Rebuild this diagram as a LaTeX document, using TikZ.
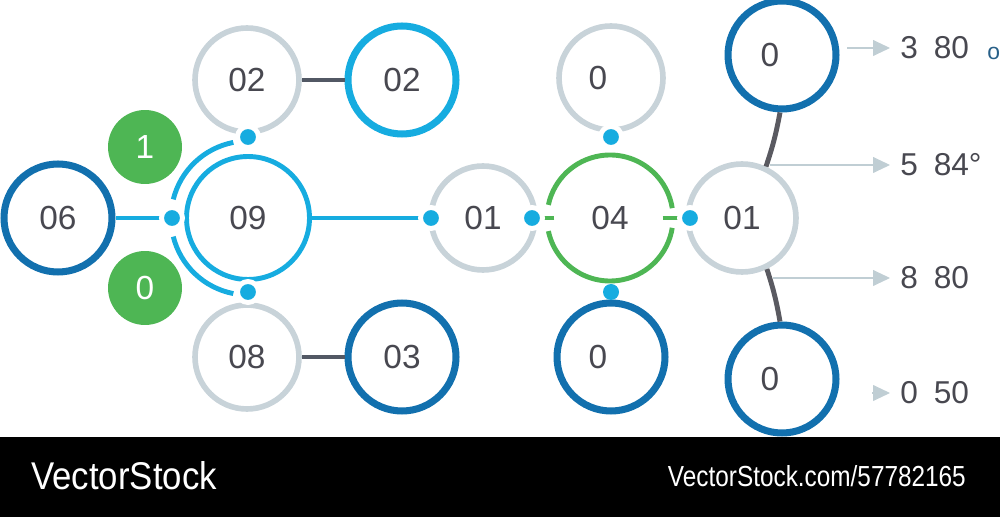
\documentclass[tikz,border=0pt]{standalone}
\usepackage{fontspec}
\setmainfont{Liberation Sans}
\usetikzlibrary{arrows.meta}
\definecolor{dblue}{RGB}{18,112,174}
\definecolor{lblue}{RGB}{22,172,224}
\definecolor{ringgray}{RGB}{200,211,217}
\definecolor{grn}{RGB}{78,182,84}
\definecolor{ink}{RGB}{72,72,80}
\definecolor{linkgray}{RGB}{82,88,100}
\definecolor{pointgray}{RGB}{192,206,212}
\begin{document}
\begin{tikzpicture}[x=0.02cm,y=0.02cm,
  num/.style={circle,inner sep=0,text=ink,font=\fontsize{19}{20}\selectfont},
  darkring/.style={num,draw=dblue,line width=4pt,minimum size=2.16cm},
  cyanring/.style={num,draw=lblue,line width=4pt,minimum size=2.16cm},
  grayring/.style={num,draw=ringgray,line width=3.2pt,minimum size=2.08cm},
  badge/.style={circle,fill=grn,text=white,inner sep=0,minimum size=1.48cm,font=\fontsize{19}{20}\selectfont},
  joint/.style={circle,fill=lblue,draw=white,line width=2.8pt,inner sep=0,minimum size=0.42cm},
  spot/.style={circle,fill=lblue,inner sep=0,minimum size=0.32cm},
  link/.style={draw=linkgray,line width=2.3pt},
  stem/.style={draw=ink!90,line width=2.8pt},
  pointer/.style={draw=pointgray,line width=0.6pt,shorten >=5.7pt,-{Triangle[length=9.6pt,width=9pt]}},
  value/.style={anchor=west,inner sep=0,text=ink,font=\fontsize{18}{20}\selectfont}]
\useasboundingbox (0,0) rectangle (1000,517);
\fill[black] (0,0) rectangle (1000,80);
\node[anchor=west,text=white,font=\fontsize{22}{24}\selectfont] (brand) at (25,41) {\scalebox{0.9}[1]{VectorStock}};
\node[anchor=east,text=white,font=\fontsize{16.5}{18}\selectfont] (url) at (972,41) {\scalebox{0.84}[1]{VectorStock.com/57782165}};
\coordinate (dT) at (248,380);
\coordinate (dB) at (248,225);
\coordinate (dL) at (172,299);
\coordinate (dA) at (431,299);
\coordinate (dC) at (532,299);
\coordinate (dZ) at (611,380);
\coordinate (dR) at (690,299);
\node[darkring] (n06) at (58,299) {06};
\node[badge] (one) at (145,370) {1};
\node[badge] (zero) at (145,229) {0};
\node[cyanring,line width=2.8pt,minimum size=2.46cm] (n09) at (248,299) {09};
\draw[lblue,line width=2.8pt] (n09.center) ++(101:77) arc[start angle=101,end angle=166,radius=77];
\draw[lblue,line width=2.8pt] (n09.center) ++(194:77) arc[start angle=194,end angle=259,radius=77];
\node[grayring] (g02) at (247,437) {02};
\node[cyanring] (c02) at (402,437) {02};
\node[grayring] (g08) at (247,160) {08};
\node[darkring] (d03) at (402,160) {03};
\draw[link] (g02) -- (c02);
\draw[link] (g08) -- (d03);
\node[grayring] (n01) at (483,299) {01};
\node[num,minimum size=2.54cm] (n04) at (610,299) {04};
\draw[grn,line width=2.8pt] (n04.center) ++(9:63) arc[start angle=9,end angle=168,radius=63];
\draw[grn,line width=2.8pt] (n04.center) ++(192:63) arc[start angle=192,end angle=351,radius=63];
\node[grayring] (z1) at (611,439) {0\rule{0.52cm}{0pt}};
\node[darkring] (z2) at (611,160) {0\rule{0.52cm}{0pt}};
\node[grayring,minimum size=2.16cm] (n01r) at (742,299) {01};
\node[darkring] (z3) at (782,462) {0\rule{0.48cm}{0pt}};
\node[darkring] (z4) at (782,138) {0\rule{0.48cm}{0pt}};
\draw[stem] (z3.-92) to[bend left=4] (n01r.65);
\draw[stem] (n01r.-64) to[bend left=4] (z4.92);
\draw[lblue,line width=2.3pt] (n06) -- (dL);
\draw[lblue,line width=2.3pt] (n09) -- (dA);
\draw[grn,line width=2.8pt,shorten <=31.7pt] (n04.center) -- (dC);
\draw[grn,line width=2.8pt,shorten <=30pt] (n04.center) -- (dR);
\foreach \p in {dT,dB,dL,dA,dC,dZ,dR} \node[joint] at (\p) {};
\node[spot] (dY) at (611,225) {};
\node[value] (l1) at (900,469) {3\enspace 80};
\node[value] (l2) at (900,352) {5\enspace 84°};
\node[value] (l3) at (900,239) {8\enspace 80};
\node[value] (l4) at (900,124) {0\enspace 50};
\node[anchor=west,inner sep=0,text=dblue!60!ink,font=\fontsize{13}{13}\selectfont] (deg) at (987,464) {o};
\coordinate (p1) at (847,469);
\coordinate (p2) at (770,352);
\coordinate (p3) at (773,239);
\coordinate (p4) at (872,124);
\draw[pointer] (p1) -- (l1);
\draw[pointer] (p2) -- (l2);
\draw[pointer] (p3) -- (l3);
\draw[pointer] (p4) -- (l4);
\end{tikzpicture}
\end{document}
